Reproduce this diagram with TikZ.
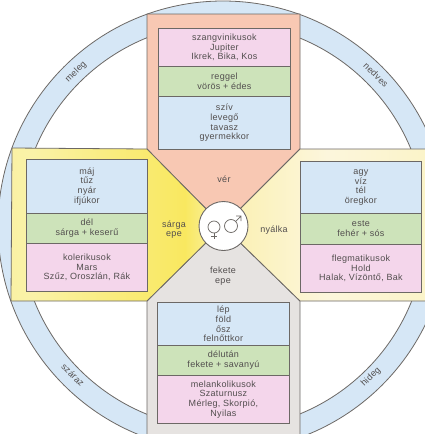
\documentclass[tikz,border=0pt]{standalone}
\usepackage{fontspec}
\setmainfont[LetterSpace=3]{Liberation Sans}
\definecolor{ln}{HTML}{6C6865}
\definecolor{tx}{HTML}{524E4E}
\definecolor{cblue}{HTML}{D6E7F6}
\definecolor{cgreen}{HTML}{CDE3BA}
\definecolor{cpink}{HTML}{F4D6EB}
\definecolor{psalmon}{HTML}{F8C8B3}
\definecolor{pgrey}{HTML}{E6E3E1}
\definecolor{ya}{HTML}{F8EE92}
\definecolor{yb}{HTML}{FAF2A8}
\definecolor{yc}{HTML}{F9EC7C}
\definecolor{yd}{HTML}{F9E860}
\definecolor{ye}{HTML}{FAF0A0}
\definecolor{yf}{HTML}{F9E658}
\definecolor{ca}{HTML}{FBF3C4}
\definecolor{cb}{HTML}{FCF6DC}
\definecolor{cc}{HTML}{FBF1B8}
\pgfdeclarehorizontalshading{yellowstreak}{100bp}{
  color(0bp)=(ya); color(30bp)=(yb); color(50bp)=(yc);
  color(66bp)=(yd); color(73bp)=(ye); color(82bp)=(yf);
  color(100bp)=(ya)}
\pgfdeclarehorizontalshading{creamstreak}{100bp}{
  color(0bp)=(ca); color(15bp)=(cb); color(30bp)=(cc);
  color(50bp)=(cb); color(80bp)=(ca); color(100bp)=(cc)}
\tikzset{
  txt/.style={text=tx,font=\fontsize{9}{9.7}\selectfont,align=center,inner sep=0pt},
  cell/.style={draw=ln,line width=0.8pt,txt,anchor=north west,minimum width=#1},
  pent/.style={draw=ln,line width=0.8pt},
  ringline/.style={draw=ln,line width=0.8pt},
  symb/.style={draw=ln,line width=0.7pt}
}
\newcommand{\cellnode}[6]{%
  \node[cell=#4pt,minimum height=#5pt,fill=#6] (#1) at (#2,#3)}
\begin{document}
\begin{tikzpicture}[x=1pt,y=-1pt]
\useasboundingbox (0,0) rectangle (425,434);
\clip (0,0) rectangle (425,434);
\fill[white] (0,0) rectangle (425,434);
% ring
\coordinate (c) at (223,226);
\fill[cblue,even odd rule] (c) circle[radius=225pt] (c) circle[radius=203pt];
\draw[ringline] (c) circle[radius=225pt];
\draw[ringline] (c) circle[radius=203pt];
% pentagons
\filldraw[pent,fill=pgrey] (147,301) -- (c) -- (300,301) -- (300,440) -- (147,440) -- cycle;
\filldraw[pent,fill=psalmon] (147,14) -- (300,14) -- (300,149) -- (c) -- (147,149) -- cycle;
\shade[pent,shading=yellowstreak] (12,148) -- (147,149) -- (c) -- (147,301) -- (11,301) -- cycle;
\shade[pent,shading=creamstreak] (300,149) -- (430,149) -- (430,301) -- (300,301) -- (c) -- cycle;
% top cells
\cellnode{ta}{158}{28}{132}{38}{cpink} {szangvinikusok\\Jupiter\\Ikrek, Bika, Kos};
\cellnode{tb}{158}{66}{132}{30}{cgreen} {reggel\\vörös + édes};
\cellnode{tc}{158}{96}{132}{53}{cblue} {szív\\levegő\\tavasz\\gyermekkor};
% left cells
\cellnode{la}{26}{159}{121}{54}{cblue} {máj\\tűz\\nyár\\ifjúkor};
\cellnode{lb}{26}{213}{121}{30}{cgreen} {dél\\sárga + keserű};
\cellnode{lc}{26}{243}{121}{48}{cpink} {kolerikusok\\Mars\\Szűz, Oroszlán, Rák};
% right cells
\cellnode{ra}{300}{161}{121}{52}{cblue} {agy\\víz\\tél\\öregkor};
\cellnode{rb}{300}{213}{121}{31}{cgreen} {este\\fehér + sós};
\cellnode{rc}{300}{244}{121}{48}{cpink} {flegmatikusok\\Hold\\Halak, Vízöntő, Bak};
% bottom cells
\cellnode{ba}{157}{302}{132}{43}{cblue} {lép\\föld\\ősz\\felnőttkor};
\cellnode{bb}{157}{345}{132}{30}{cgreen} {délután\\fekete + savanyú};
\cellnode{bc}{157}{375}{132}{48}{cpink} {melankolikusok\\Szaturnusz\\Mérleg, Skorpió,\\Nyilas};
% humour labels
\node[txt] (ver) at (224,179) {vér};
\node[txt] (sarga) at (174,229.5) {sárga\\epe};
\node[txt] (nyalka) at (274,230) {nyálka};
\node[txt] (fekete) at (223,276) {fekete\\epe};
% ring labels
\node[txt,rotate=45] (meleg) at (76,72) {meleg};
\node[txt,rotate=-45] (nedves) at (376,75) {nedves};
\node[txt,rotate=-45] (szaraz) at (73,375) {száraz};
\node[txt,rotate=45] (hideg) at (371,377) {hideg};
% hub
\node[circle,draw=ln,fill=white,line width=0.9pt,minimum size=49pt,inner sep=0pt] (hub) at (223.5,226) {};
% symbols
\draw[symb] (214,227) circle[radius=6pt];
\draw[symb] (214,233) -- (214,239) (211,236) -- (217,236);
\draw[symb] (231,226) circle[radius=6.5pt];
\draw[symb] (235.6,221.4) -- (241,216) (236,216) -- (241,216) -- (241,221);
\end{tikzpicture}
\end{document}
